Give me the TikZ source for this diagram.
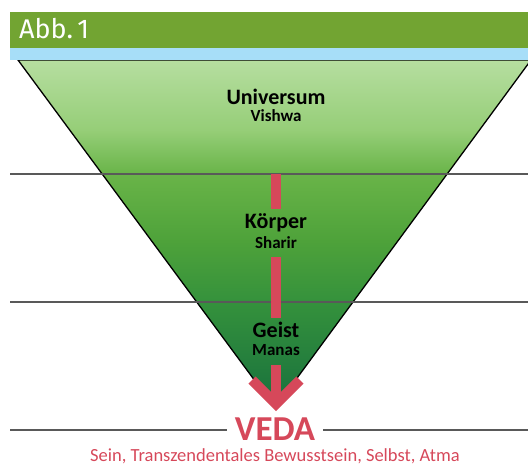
\documentclass[tikz,border=0pt]{standalone}
\usepackage{fontspec}
\setmainfont{Carlito}
\newfontfamily\abbfont{Fira Sans}
\definecolor{abbgreen}{RGB}{114,164,50}
\definecolor{abbblue}{RGB}{167,222,248}
\definecolor{vedared}{RGB}{214,72,90}
\definecolor{green1}{RGB}{182,222,160}
\definecolor{green2}{RGB}{150,206,120}
\definecolor{green3}{RGB}{105,180,72}
\definecolor{green4}{RGB}{78,162,58}
\definecolor{green5}{RGB}{52,145,60}
\definecolor{green6}{RGB}{24,112,62}
\pgfdeclareverticalshading{funnel}{100bp}{
    color(0bp)=(green6); color(25bp)=(green6); color(40bp)=(green5);
    color(49bp)=(green4); color(58.6bp)=(green3); color(65bp)=(green2);
    color(75bp)=(green1); color(100bp)=(green1)}
\tikzset{
    every node/.style={
        text=black
    },
    level/.style={
        draw=black!65,
        line width=1.3pt
    },
    redbar/.style={
        draw=vedared,
        line width=10pt
    }
}
\tikzstyle{word}=[font=\bfseries\fontsize{22}{22}\selectfont, anchor=base, inner xsep=0pt, inner ysep=4pt]
\tikzstyle{sub}=[font=\bfseries\fontsize{17}{17}\selectfont, anchor=base, inner xsep=0pt, inner ysep=0pt]

\begin{document}
\begin{tikzpicture}[x=1pt, y=-1pt]
\useasboundingbox (0,0) rectangle (528,472);

\begin{scope}
\clip (0,0) rectangle (528,472);
\shade[shading=funnel, draw=black, line width=1.3pt]
    (18,60) -- (531,60) -- (275,408) -- cycle;
\end{scope}

\fill[abbgreen] (10,12) rectangle (528,48);
\fill[abbblue] (10,48) rectangle (528,60);
\node[font=\abbfont\fontsize{27}{27}\selectfont, text=white, anchor=base west, inner sep=0pt] (abb) at (19,38) {Abb.\,1};

\draw[level] (10,174) -- (528,174);
\draw[level] (10,302) -- (528,302);

\node[word, inner ysep=0pt] (universum) at (276,104) {Universum};
\node[sub] (vishwa) at (276,121) {Vishwa};
\node[word] (koerper) at (276,228) {Körper};
\node[sub, inner ysep=9pt] (sharir) at (276,248) {Sharir};
\node[word, inner ysep=3pt] (geist) at (276,337) {Geist};
\node[sub, inner ysep=10pt] (manas) at (276,355) {Manas};

\coordinate (bartop) at (276,174);
\coordinate (tip) at (276,404);
\path[redbar] (bartop) edge (koerper) (sharir) edge (geist) (manas) edge (tip);
\draw[redbar, line join=miter] (252,380) -- (tip) -- (300,380);

\node[font=\bfseries\fontsize{35}{35}\selectfont, text=vedared, anchor=base, inner xsep=8pt] (veda) at (275,440) {VEDA};
\coordinate (vl) at (10,430);
\coordinate (vr) at (528,430);
\draw[level] (vl) -- (veda.west |- vl);
\draw[level] (veda.east |- vr) -- (vr);
\node[font=\fontsize{18.5}{18.5}\selectfont, text=vedared, anchor=base] (sein) at (275,461) {Sein, Transzendentales Bewusstsein, Selbst, Atma};

\end{tikzpicture}
\end{document}
